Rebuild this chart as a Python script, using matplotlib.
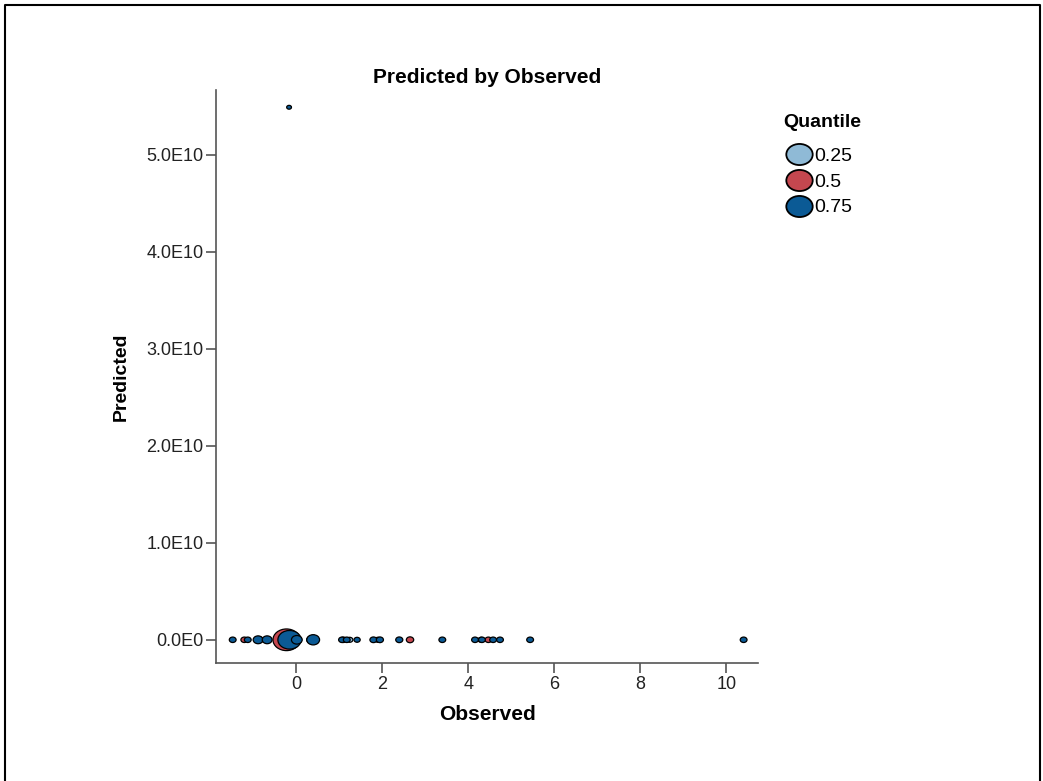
import matplotlib
matplotlib.use("Agg")
import matplotlib.pyplot as plt
from matplotlib.lines import Line2D
from matplotlib.path import Path
from matplotlib.transforms import Affine2D
from matplotlib.ticker import FixedLocator

# values
quantiles = ["0.25", "0.5", "0.75"]
colors = ["#8fbad6", "#c4474f", "#0b5a95"]

obs_25 = [-0.85, -0.18, 0.35, 1.25, 1.9, 4.3]
pred_25 = [0.0, 0.0, 0.0, 0.0, 0.0, 0.0]
size_25 = [30, 250, 40, 20, 20, 20]

obs_50 = [-1.2, -0.22, 1.1, 2.65, 4.47]
pred_50 = [0.0, 0.0, 0.0, 0.0, 0.0]
size_50 = [24, 380, 24, 28, 24]

obs_75 = [-1.47, -1.12, -0.88, -0.67, -0.15, 0.02, 0.40, 1.07, 1.18, 1.42,
          1.80, 1.95, 2.40, 3.40, 4.16, 4.32, 4.58, 4.74, 5.44, 10.4, -0.16]
pred_75 = [0.0] * 20 + [5.49e10]
size_75 = [24, 24, 50, 50, 280, 60, 85, 24, 24, 20,
           26, 26, 26, 24, 24, 24, 24, 24, 24, 24, 12]

y_ticks = [0.0, 1e10, 2e10, 3e10, 4e10, 5e10]
y_tick_labels = ["0.0E0", "1.0E10", "2.0E10", "3.0E10", "4.0E10", "5.0E10"]
x_ticks = [0, 2, 4, 6, 8, 10]

plt.rcParams["font.family"] = ["Liberation Sans", "DejaVu Sans"]

# slightly wide ellipse, like the exported markers
ellipse = Path.unit_circle().transformed(Affine2D().scale(1.25, 1.0))

fig = plt.figure(figsize=(10.43, 7.81), dpi=100)
ax = fig.add_axes([0.207, 0.151, 0.52, 0.734])

series = [(obs_25, pred_25, size_25), (obs_50, pred_50, size_50), (obs_75, pred_75, size_75)]
for (xs, ys, ss), c, q in zip(series, colors, quantiles):
    ax.scatter(xs, ys, s=ss, c=c, marker=ellipse, edgecolors="black",
               linewidths=0.9, label=q, zorder=3)

ax.set_xlim(-1.86, 10.74)
ax.set_ylim(-0.24e10, 5.67e10)
ax.xaxis.set_major_locator(FixedLocator(x_ticks))
ax.set_yticks(y_ticks)
ax.set_yticklabels(y_tick_labels)

for side in ["top", "right"]:
    ax.spines[side].set_visible(False)
for side in ["left", "bottom"]:
    ax.spines[side].set_color("#555555")
    ax.spines[side].set_linewidth(1.2)
ax.tick_params(axis="both", length=7, width=1.2, color="#555555",
               labelsize=13, labelcolor="#222222", pad=2)

ax.set_title("Predicted by Observed", fontsize=15, fontweight="bold", pad=5)
ax.set_xlabel("Observed", fontsize=15, fontweight="bold", labelpad=9)
ax.set_ylabel("Predicted", fontsize=14, fontweight="bold", labelpad=12)

handles = [Line2D([], [], marker=ellipse, linestyle="", markersize=19,
                  markerfacecolor=c, markeredgecolor="black", markeredgewidth=1.3)
           for c in colors]
leg = fig.legend(handles, quantiles, loc="upper left", bbox_to_anchor=(0.738, 0.872),
                 frameon=False, title="Quantile", fontsize=14,
                 title_fontproperties={"weight": "bold", "size": 14},
                 handletextpad=0.0, labelspacing=0.42, handlelength=1.6,
                 borderpad=0.2)
leg._legend_box.align = "left"
leg._legend_box.sep = 12

# outer frame of the original export (left, top, right)
fig.add_artist(Line2D([0.005, 0.005, 0.997, 0.997], [0.0, 0.993, 0.993, 0.0],
                      transform=fig.transFigure, color="black", linewidth=1.5))

fig.savefig("out.png", dpi=100)
